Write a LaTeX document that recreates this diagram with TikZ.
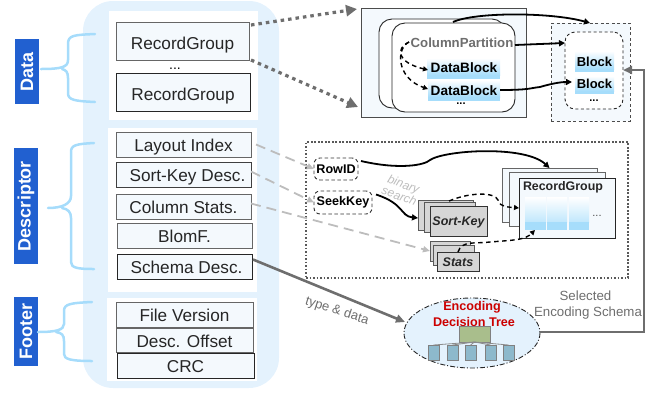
\documentclass[tikz,border=0pt]{standalone}
\usepackage{fontspec}
\setmainfont{Liberation Sans}
\usetikzlibrary{arrows.meta,calc}
\definecolor{panel}{HTML}{E4F2FD}
\definecolor{boxfill}{HTML}{F4F9FD}
\definecolor{brace}{HTML}{A6DCFB}
\definecolor{tagblue}{HTML}{2160D0}
\definecolor{darkg}{HTML}{6E6E6E}
\definecolor{lightg}{HTML}{BDBDBD}
\definecolor{band}{HTML}{A6DDFB}
\definecolor{cardg}{HTML}{D6D6D6}
\definecolor{rootg}{HTML}{A9BE8C}
\definecolor{leafb}{HTML}{8DB9CC}
\tikzset{
 x=1pt,y=-1pt,
 every node/.style={inner sep=0,outer sep=0},
 fieldbox/.style={draw=#1,line width=1pt,fill=boxfill,font=\fontsize{17.2}{18}\selectfont,text=black!85,text height=14pt,text depth=0pt},
 fieldbox/.default={black!60},
 tag/.style={fill=tagblue,text=white,font=\bfseries\fontsize{18}{20}\selectfont,rotate=90},
 bracepath/.style={draw=brace,line width=2.5pt,line cap=round},
 dotarrow/.style={draw=darkg,line width=3.2pt,dash pattern=on 3.5pt off 4pt,-{Triangle[length=11pt,width=11pt,fill=darkg]}},
 greydash/.style={draw=lightg,line width=1.8pt,dash pattern=on 10pt off 6pt,-{Triangle[length=7pt,width=6pt]}},
 solidcurve/.style={draw=black,line width=1.8pt,-{Triangle[length=6pt,width=6pt]}},
 dashcurve/.style={draw=black,line width=1.4pt,dash pattern=on 4.5pt off 3.5pt,-{Triangle[length=5pt,width=5pt]}},
 thickgrey/.style={draw=darkg,line width=2.6pt},
 bluelabel/.style={font=\bfseries\fontsize{13.6}{15}\selectfont,text=black},
 blocklabel/.style={font=\bfseries\fontsize{13}{15}\selectfont,text=black},
 sheet/.style={draw=black!60,line width=1pt,fill=boxfill},
 card/.style={draw=black!65,line width=1pt,fill=cardg},
 keybox/.style={draw=black!80,line width=.9pt,dash pattern=on 3.5pt off 2.5pt,rounded corners=6pt,fill=white,font=\bfseries\fontsize{12.6}{14}\selectfont},
 leaf/.style={draw=black!50,line width=1pt,fill=#1},
 dotnode/.style={font=\bfseries\fontsize{11}{11}\selectfont,text height=2pt,text depth=0pt},
}
\newcommand{\boxat}[6][]{\node[#1,minimum width=#4-#2,minimum height=#5-#3] at ({(#2+#4)/2},{(#3+#5)/2}) {#6};}
\begin{document}
\begin{tikzpicture}
\useasboundingbox (0,0) rectangle (667,392);
% backdrop
\fill[panel,rounded corners=30pt] (83,1) rectangle (279,388);
\fill[white] (109,11) rectangle (258,120);
\fill[white] (108,128) rectangle (257,292);
\fill[white] (107,298) rectangle (257,381);
% tags
\node[tag,minimum width=65pt,minimum height=24pt] (tdata) at (27,71.5) {Data};
\node[tag,minimum width=116pt,minimum height=24pt] (tdesc) at (26,206) {Descriptor};
\node[tag,minimum width=69pt,minimum height=24pt] (tfoot) at (26,331.5) {Footer};
% braces
\draw[bracepath] (95,34) .. controls (74,35) and (68,35) .. (68,44) -- (68,60) .. controls (68,67) and (62,69) .. (41,69)
 (62,69) .. controls (66,70) and (68,72) .. (68,78) -- (68,93) .. controls (68,100) and (74,101) .. (95,102);
\draw[bracepath] (94,143) .. controls (76,144) and (71,145) .. (71,152) -- (71,196) .. controls (71,204) and (62,208) .. (48,208)
 (62,208) .. controls (68,209) and (71,212) .. (71,218) -- (71,262) .. controls (71,268) and (78,269) .. (94,269);
\draw[bracepath] (92,302) .. controls (70,303) and (64,304) .. (64,311) -- (64,324) .. controls (64,330) and (56,332) .. (38,332)
 (56,332) .. controls (62,333) and (64,335) .. (64,341) -- (64,354) .. controls (64,359) and (70,361) .. (92,361);
% fields
\boxat[fieldbox,name=rg1]{116}{22}{249}{60}{\raisebox{-1pt}{RecordGroup}}
\node[dotnode,font=\fontsize{14}{14}\selectfont] (dots1) at (175,68) {...};
\boxat[fieldbox=black!85,name=rg2]{116}{73}{250}{111}{\raisebox{-1pt}{RecordGroup}}
\boxat[fieldbox,name=li]{116}{132}{251}{157}{Layout Index}
\boxat[fieldbox=black!75,name=sk]{116}{162}{251}{187}{\hspace*{8pt}Sort-Key Desc.}
\boxat[fieldbox,name=cs]{116}{194}{251}{219}{Column Stats.}
\boxat[fieldbox,name=bf]{117}{223}{252}{248}{BlomF.}
\boxat[fieldbox=black!85,name=sd]{117}{254}{252}{279}{\hspace*{4pt}Schema Desc.}
\boxat[fieldbox,name=fv]{116}{302}{253}{327}{File Version}
\boxat[fieldbox,name=dof]{116}{328}{253}{352}{Desc. Offset}
\boxat[fieldbox=black!85,name=crc]{117}{353}{254}{378}{CRC}
% top-right outer box
\boxat[draw=black!70,line width=1pt,fill=boxfill,name=outer]{361}{8}{526}{117}{}
\boxat[draw=black!85,line width=.9pt,fill=white,rounded corners=13pt,name=cp0]{379}{19}{505}{108}{}
\boxat[draw=black!85,line width=.9pt,fill=white,rounded corners=13pt,name=cp1]{392}{23}{515}{112}{}
\node[font=\bfseries\fontsize{13.2}{15}\selectfont,text=darkg] (cptxt) at (462,43) {ColumnPartition};
\shade[top color=white,bottom color=band] (427,58) rectangle (500,75);
\fill[band] (427,75) rectangle (500,79);
\shade[top color=white,bottom color=band] (428,80) rectangle (500,97);
\fill[band] (428,97) rectangle (500,101);
\node[bluelabel] (db1) at (464,68) {DataBlock};
\node[bluelabel] (db2) at (464,91) {DataBlock};
\node[dotnode] (dots2) at (461,103) {...};
% blocks group
\boxat[draw=black!70,line width=.9pt,dash pattern=on 3pt off 2.5pt,fill=boxfill,name=bgrp]{551}{23}{630}{121}{}
\boxat[draw=black!85,line width=.9pt,dash pattern=on 3pt off 2.5pt,fill=white,rounded corners=10pt,name=binner]{565}{32}{623}{109}{}
\shade[top color=white,bottom color=band] (575,51) rectangle (614,69);
\fill[band] (575,69) rectangle (614,72);
\shade[top color=white,bottom color=band] (575,76) rectangle (614,91);
\fill[band] (575,91) rectangle (614,94);
\node[blocklabel] (b1) at (594.5,61.5) {Block};
\node[blocklabel] (b2) at (594.5,83.5) {Block};
\node[dotnode] (dots3) at (594,100) {...};
% dotted frame
\boxat[draw=black!65,line width=1.7pt,dash pattern=on 1.7pt off 1.8pt,name=frame]{306}{142}{628}{278}{}
% binary search
\node[rotate=-20,text=lightg,align=center,font=\itshape\fontsize{12}{12.5}\selectfont] (bin) at (401.5,190) {binary\\search};
% keys
\boxat[keybox,name=rowid]{314}{158}{358}{180}{RowID}
\boxat[keybox,name=seek]{314}{191}{372}{214}{SeekKey}
% record group stack
\boxat[sheet,name=s1]{502}{168}{597}{222}{}
\boxat[sheet,name=s2]{509}{172}{605}{226}{}
\boxat[sheet,draw=black!85,name=s3]{519}{178}{615}{238}{}
\node[font=\bfseries\fontsize{12.4}{14}\selectfont,text=black!85,anchor=west] (rgt) at (523,187) {RecordGroup};
\foreach \a/\b in {525/546,547/567,569/589}{
 \shade[top color=white,bottom color=band!70] (\a,197) rectangle (\b,222);
 \fill[band] (\a,222) rectangle (\b,230);
}
\node[font=\fontsize{11}{11}\selectfont,text=black!70,text height=2pt,text depth=0pt] (dots4) at (597,215) {...};
% sort-key stack
\boxat[card,name=k1]{418}{200}{473}{230}{}
\boxat[card,name=k2]{424}{202}{475}{232}{}
\boxat[card,draw=black!80,name=k3]{430}{206}{487}{236}{}
\node[font=\bfseries\itshape\fontsize{12.5}{14}\selectfont,text=black!85] (kt) at (458.5,222) {Sort-Key};
% stats stack
\boxat[card,name=t1]{430}{241}{470}{261}{}
\boxat[card,name=t2]{433.5}{245}{474}{265}{}
\boxat[card,draw=black!80,name=t3]{437}{252}{479}{271}{}
\node[font=\bfseries\itshape\fontsize{12.5}{14}\selectfont,text=black!85] (tt) at (458,262) {Stats};
% ellipse and tree
\draw[black!85,fill=panel,line width=.9pt,dash pattern=on 5pt off 2pt on 1pt off 2pt] (472,333) circle [x radius=68,y radius=35];
\node[text=red!80!black,font=\bfseries\fontsize{12.6}{14}\selectfont] (enc) at (472,307) {Encoding};
\node[text=red!80!black,font=\bfseries\fontsize{12.6}{14}\selectfont] (dec) at (474,322) {Decision Tree};
\foreach \i/\a in {a/428,b/447,c/465,d/485,e/503}{
 \boxat[leaf=leafb,name=lf\i]{\a}{345}{\a+11}{360}{}
}
\boxat[leaf=rootg,name=root]{459}{326}{490}{342}{}
\foreach \i in {a,b,c,d,e}{
 \draw[black!45,line width=.8pt] (root.south) -- (lf\i.north);
}
% connectors
\coordinate (c1) at (357,9);
\coordinate (c2) at (358,107);
\draw[dotarrow] (rg1.north east)++(2,3) -- (c1);
\draw[dotarrow] (rg1.south east)++(2,0) -- (c2);
\draw[greydash] (li.east)++(5,0) -- (rowid.west);
\draw[greydash] (sk.east)++(0,-3) -- (seek.west);
\draw[greydash] (cs.east)++(0,-3) -- (t1.west);
\coordinate (ellw) at (405,322);
\draw[thickgrey,-{Triangle[length=9pt,width=8pt]}] (sd.east)++(1,-7) -- (ellw);
\node[rotate=-18,text=darkg,font=\fontsize{13}{15}\selectfont] (td) at (337,311) {type \& data};
\coordinate (e1) at (540,332);
\coordinate (e2) at (644,332);
\coordinate (e3) at (644,70);
\draw[thickgrey,-{Triangle[length=9pt,width=8pt]}] (e1) -- (e2) -- (e3) -- (binner.east |- e3);
\node[text=darkg,font=\fontsize{13.3}{15}\selectfont] (sel) at (585.5,296) {Selected};
\node[text=darkg,font=\fontsize{13.3}{15}\selectfont] (ens) at (588,313) {Encoding Schema};
\coordinate (top1) at (453,22);
\coordinate (top2) at (590,23);
\draw[solidcurve] (top1) .. controls (475,12) and (550,12) .. (top2);
\draw[solidcurve] (515,45) -- (binner.west |- 0,43);
\draw[solidcurve] (500,90) .. controls (530,90) and (530,88) .. (540,87) .. controls (550,84) and (560,82) .. (572,82);
\coordinate (cps) at (409,42);
\draw[dashcurve] (cps) .. controls (396,48) and (396,62) .. (428,70);
\draw[dashcurve] (cps) .. controls (396,48) and (396,78) .. (428,89);
\draw[solidcurve] (rowid.east)++(3,-8) .. controls (400,170) and (425,165) .. (430,160) .. controls (445,150) and (525,145) .. (s1.north);
\draw[solidcurve] (seek.east)++(4,-8) .. controls (405,204) and (400,216) .. (k1.west |- 0,218);
\draw[dashcurve] (449,201) .. controls (470,192) and (495,192) .. (498,200) .. controls (500,208) and (510,207) .. (s3.west |- 0,208);
\draw[dashcurve] (458,252) .. controls (462,240) and (475,244) .. (490,242) .. controls (515,240) and (525,240) .. (535,230);
\end{tikzpicture}
\end{document}
